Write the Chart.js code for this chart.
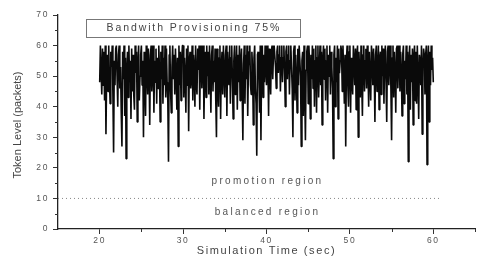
<!DOCTYPE html>
<html>
<head>
<meta charset="utf-8">
<script src="https://cdn.jsdelivr.net/npm/chart.js@4.4.1/dist/chart.umd.min.js"></script>
<style>
  html, body { margin: 0; padding: 0; background: #fff; }
  #wrap { width: 479px; height: 261px; }
</style>
</head>
<body>
<div id="wrap"><canvas id="chart" width="479" height="261"></canvas></div>
<script>
/* ─── Data ───────────────────────────────────── */
// token level sampled every 1/12 s from t = 20 s (one row per second)
const tStart = 20;
const tStep = 1 / 12;
const tokenLevel = [
  48, 60, 52, 44, 59, 47, 58, 42, 60, 31, 50, 57,
  45, 60, 49, 41, 58, 53, 60, 44, 25, 55, 47, 59,
  60, 50, 40, 57, 60, 46, 53, 38, 27, 58, 49, 60,
  37, 56, 23, 52, 58, 43, 60, 48, 55, 36, 59, 45,
  57, 44, 39, 60, 51, 58, 35, 54, 60, 42, 50, 57,
  60, 47, 55, 30, 58, 49, 37, 60, 52, 44, 59, 53,
  34, 57, 60, 45, 51, 60, 38, 55, 48, 59, 41, 56,
  46, 60, 52, 35, 58, 49, 60, 41, 56, 47, 60, 43,
  59, 48, 42, 22, 57, 60, 45, 38, 53, 60, 49, 57,
  44, 59, 51, 39, 56, 27, 60, 47, 58, 42, 55, 60,
  60, 43, 56, 50, 38, 59, 47, 60, 32, 55, 58, 46,
  49, 60, 42, 57, 53, 40, 60, 48, 44, 59, 52, 60,
  39, 57, 60, 46, 55, 60, 36, 52, 58, 43, 60, 50,
  58, 44, 60, 51, 38, 57, 60, 45, 55, 48, 59, 42,
  30, 59, 47, 40, 56, 60, 36, 53, 58, 44, 60, 51,
  43, 57, 60, 37, 58, 50, 47, 60, 41, 56, 60, 48,
  36, 55, 60, 44, 51, 60, 39, 57, 48, 60, 42, 55,
  59, 45, 29, 54, 60, 41, 57, 49, 60, 37, 53, 58,
  60, 47, 44, 58, 52, 34, 56, 60, 46, 41, 24, 57,
  58, 50, 38, 60, 29, 55, 60, 43, 57, 48, 60, 52,
  47, 60, 55, 37, 59, 51, 44, 58, 60, 49, 57, 60,
  60, 53, 46, 58, 60, 51, 57, 60, 45, 56, 60, 48,
  56, 60, 52, 40, 58, 60, 49, 57, 60, 44, 55, 60,
  53, 46, 30, 58, 60, 42, 57, 51, 38, 59, 47, 60,
  60, 50, 27, 55, 58, 37, 60, 45, 29, 52, 58, 60,
  41, 60, 54, 36, 57, 49, 60, 46, 59, 40, 55, 60,
  38, 56, 60, 43, 52, 60, 47, 58, 34, 55, 60, 49,
  59, 42, 55, 60, 38, 57, 50, 60, 44, 58, 53, 46,
  23, 57, 60, 40, 56, 48, 60, 36, 59, 51, 55, 60,
  58, 45, 60, 52, 41, 57, 27, 55, 60, 47, 40, 58,
  60, 38, 56, 49, 44, 60, 55, 47, 59, 39, 57, 60,
  30, 58, 51, 43, 60, 48, 37, 57, 60, 45, 55, 59,
  46, 60, 53, 40, 58, 50, 42, 60, 56, 47, 59, 52,
  35, 57, 60, 45, 53, 60, 39, 56, 58, 44, 60, 50,
  59, 41, 56, 60, 48, 35, 58, 60, 47, 55, 60, 46,
  29, 56, 60, 43, 58, 51, 38, 59, 60, 46, 55, 60,
  45, 58, 52, 37, 57, 60, 41, 55, 49, 60, 44, 58,
  22, 55, 60, 39, 57, 48, 59, 34, 56, 60, 42, 58,
  41, 60, 50, 36, 57, 55, 47, 60, 31, 53, 59, 57,
  44, 57, 60, 21, 55, 60, 35, 58, 47, 60, 52, 56,
  48
];

// dotted threshold line between the two regions
const thresholdX = [15, 61];
const thresholdY = [10, 10];

const xRange = [15, 65];
const yRange = [0, 70];
const xMajorTicks = [20, 30, 40, 50, 60];
const xMinorTicks = [25, 35, 45, 55, 65];
const yMinorTicks = [5, 15, 25, 35, 45, 55, 65];

const titleText = 'Bandwith Provisioning 75%';
const titleBox = { x0: 18.35, x1: 44, y0: 68.7, y1: 62.8 };
const regionLabels = [
  { text: 'promotion region', x: 40, y: 15.7 },
  { text: 'balanced region', x: 40, y: 5.6 }
];

/* ─── Helpers ────────────────────────────────── */
const FONT = "'Liberation Sans', Arial, sans-serif";

const tokenPoints = tokenLevel.map((v, i) => ({ x: tStart + i * tStep, y: v }));
const thresholdPoints = thresholdX.map((x, i) => ({ x, y: thresholdY[i] }));

const decorPlugin = {
  id: 'decor',
  beforeDraw(chart) {
    chart.ctx.letterSpacing = '1.6px';
  },
  afterDraw(chart) {
    const { ctx, scales: { x, y } } = chart;
    ctx.save();

    // minor ticks
    ctx.strokeStyle = '#333';
    ctx.lineWidth = 1;
    ctx.beginPath();
    xMinorTicks.forEach(v => {
      const px = Math.round(x.getPixelForValue(v)) + 0.5;
      ctx.moveTo(px, x.top);
      ctx.lineTo(px, x.top + 3);
    });
    yMinorTicks.forEach(v => {
      const py = Math.round(y.getPixelForValue(v)) + 0.5;
      ctx.moveTo(y.right - 3, py);
      ctx.lineTo(y.right, py);
    });
    ctx.stroke();

    // title box
    const bx0 = x.getPixelForValue(titleBox.x0), bx1 = x.getPixelForValue(titleBox.x1);
    const by0 = y.getPixelForValue(titleBox.y0), by1 = y.getPixelForValue(titleBox.y1);
    ctx.strokeStyle = '#777';
    ctx.strokeRect(Math.round(bx0) + 0.5, Math.round(by0) + 0.5, Math.round(bx1 - bx0), Math.round(by1 - by0));
    ctx.fillStyle = '#444';
    ctx.font = '10.5px ' + FONT;
    ctx.letterSpacing = '1.9px';
    ctx.textAlign = 'center';
    ctx.textBaseline = 'middle';
    ctx.fillText(titleText, (bx0 + bx1) / 2 + 1, (by0 + by1) / 2 + 0.5);

    // region labels
    ctx.fillStyle = '#555';
    ctx.font = '10px ' + FONT;
    ctx.letterSpacing = '2.3px';
    regionLabels.forEach(r => {
      ctx.fillText(r.text, x.getPixelForValue(r.x) + 1, y.getPixelForValue(r.y));
    });

    // y axis title
    ctx.letterSpacing = '0px';
    ctx.font = '11px ' + FONT;
    ctx.fillStyle = '#444';
    ctx.translate(18, (y.top + y.bottom) / 2 + 3);
    ctx.rotate(-Math.PI / 2);
    ctx.fillText('Token Level (packets)', 0, 0);

    ctx.restore();
  }
};

/* ─── Chart ──────────────────────────────────── */
new Chart(document.getElementById('chart'), {
  type: 'line',
  data: {
    datasets: [
      {
        label: 'Token level',
        data: tokenPoints,
        borderColor: '#0a0a0a',
        borderWidth: 1.6,
        borderJoinStyle: 'bevel',
        pointRadius: 0,
        tension: 0,
        fill: false
      },
      {
        label: 'Threshold',
        data: thresholdPoints,
        borderColor: '#888',
        borderWidth: 1,
        borderDash: [1, 3],
        pointRadius: 0,
        fill: false
      }
    ]
  },
  options: {
    responsive: false,
    animation: false,
    devicePixelRatio: 1,
    layout: { padding: { left: 0, right: 4, top: 15, bottom: 0 } },
    plugins: {
      legend: { display: false },
      tooltip: { enabled: false }
    },
    scales: {
      x: {
        type: 'linear',
        min: xRange[0],
        max: xRange[1],
        afterBuildTicks: s => { s.ticks = xMajorTicks.map(v => ({ value: v })); },
        afterFit: s => { s.height = 32; },
        border: { color: '#222', width: 1.3 },
        grid: { drawOnChartArea: false, tickLength: 5, color: '#333' },
        ticks: {
          padding: 2,
          color: '#555',
          font: { family: FONT, size: 8.5 }
        },
        title: {
          display: true,
          text: 'Simulation Time (sec)',
          color: '#444',
          font: { family: FONT, size: 11 },
          padding: { top: 0, bottom: 3 }
        }
      },
      y: {
        min: yRange[0],
        max: yRange[1],
        afterFit: s => { s.width = 58; },
        border: { color: '#222', width: 1.3 },
        grid: { drawOnChartArea: false, tickLength: 5, color: '#333' },
        ticks: {
          stepSize: 10,
          padding: 4,
          color: '#555',
          font: { family: FONT, size: 8.5 }
        }
      }
    }
  },
  plugins: [decorPlugin]
});
</script>
</body>
</html>
